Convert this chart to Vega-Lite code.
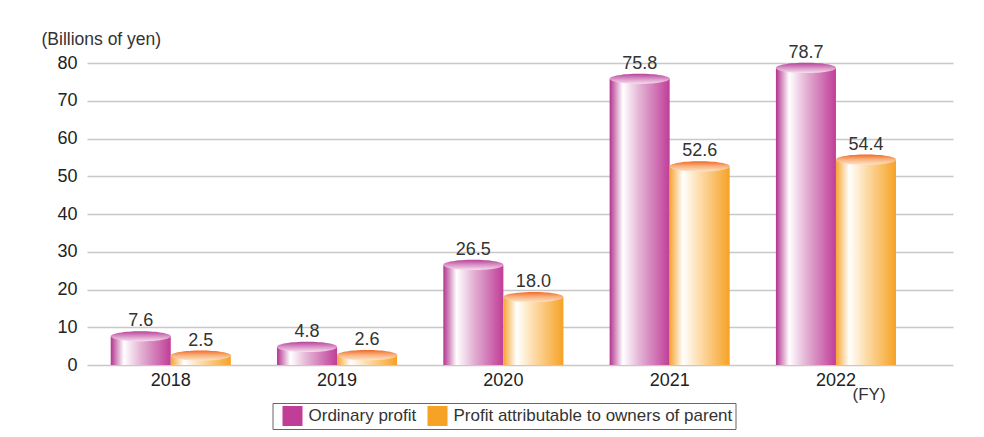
{
  "$schema": "https://vega.github.io/schema/vega-lite/v6.json",
  "autosize": "none",
  "width": 866,
  "height": 302,
  "padding": {"left": 87, "top": 63, "right": 31, "bottom": 72},
  "background": "white",
  "config": {"view": {"stroke": null}, "font": "Liberation Sans"},
  "data": {"values": [
    {"year": "2018", "series": "Ordinary profit", "value": 7.6},
    {"year": "2018", "series": "Profit attributable to owners of parent", "value": 2.5},
    {"year": "2019", "series": "Ordinary profit", "value": 4.8},
    {"year": "2019", "series": "Profit attributable to owners of parent", "value": 2.6},
    {"year": "2020", "series": "Ordinary profit", "value": 26.5},
    {"year": "2020", "series": "Profit attributable to owners of parent", "value": 18.0},
    {"year": "2021", "series": "Ordinary profit", "value": 75.8},
    {"year": "2021", "series": "Profit attributable to owners of parent", "value": 52.6},
    {"year": "2022", "series": "Ordinary profit", "value": 78.7},
    {"year": "2022", "series": "Profit attributable to owners of parent", "value": 54.4}
  ]},
  "encoding": {
    "x": {
      "field": "year", "type": "ordinal",
      "scale": {"paddingInner": 0.278, "paddingOuter": 0.2428, "align": 0.294},
      "axis": {
        "title": "(FY)", "titleX": 765, "titleY": 34, "titleAlign": "left", "titleBaseline": "alphabetic",
        "titleFontSize": 17, "titleFontWeight": "normal", "titleColor": "#333",
        "labelAngle": 0, "labelFontSize": 18, "labelColor": "#222", "labelPadding": 6,
        "ticks": false, "domain": false, "grid": false
      }
    },
    "xOffset": {
      "field": "series", "type": "nominal",
      "scale": {"domain": ["Ordinary profit", "Profit attributable to owners of parent"], "paddingInner": 0, "paddingOuter": 0}
    },
    "y": {
      "field": "value", "type": "quantitative",
      "scale": {"domain": [0, 80], "nice": false},
      "axis": {
        "title": "(Billions of yen)", "titleAngle": 0, "titleAlign": "left", "titleBaseline": "alphabetic",
        "titleX": -46, "titleY": -19, "titleFontSize": 17.5, "titleFontWeight": "normal", "titleColor": "#333",
        "values": [0, 10, 20, 30, 40, 50, 60, 70, 80],
        "labelFontSize": 18, "labelColor": "#222", "labelPadding": 10,
        "ticks": false, "domain": false,
        "gridColor": "#c8c8c8", "gridWidth": 1.5
      }
    }
  },
  "layer": [
    {
      "transform": [{"filter": "datum.series === 'Ordinary profit'"}],
      "mark": {"type": "bar", "strokeWidth": 0,
        "fill": {"gradient": "linear", "x1": 0, "y1": 0, "x2": 1, "y2": 0, "stops": [
          {"offset": 0, "color": "#b3338e"},
          {"offset": 0.22, "color": "#ffffff"},
          {"offset": 0.5, "color": "#e3b3d4"},
          {"offset": 1, "color": "#c03d98"}
        ]}}
    },
    {
      "transform": [{"filter": "datum.series !== 'Ordinary profit'"}],
      "mark": {"type": "bar", "strokeWidth": 0,
        "fill": {"gradient": "linear", "x1": 0, "y1": 0, "x2": 1, "y2": 0, "stops": [
          {"offset": 0, "color": "#f6a432"},
          {"offset": 0.22, "color": "#ffffff"},
          {"offset": 0.5, "color": "#fddcab"},
          {"offset": 1, "color": "#f6a225"}
        ]}}
    },
    {
      "transform": [{"filter": "datum.series === 'Ordinary profit'"}],
      "mark": {"type": "point", "filled": true, "strokeWidth": 0, "size": 3600,
               "shape": "M -1 0 A 1 0.17 0 1 0 1 0 A 1 0.17 0 1 0 -1 0 Z",
               "fill": {"gradient": "linear", "x1": 0, "y1": 0, "x2": 0, "y2": 1, "stops": [
                 {"offset": 0, "color": "#b5449a"},
                 {"offset": 0.45, "color": "#d88cc3"},
                 {"offset": 1, "color": "#f5dfee"}
               ]}},
      "encoding": {"opacity": {"value": 1}}
    },
    {
      "transform": [{"filter": "datum.series !== 'Ordinary profit'"}],
      "mark": {"type": "point", "filled": true, "strokeWidth": 0, "size": 3600,
               "shape": "M -1 0 A 1 0.17 0 1 0 1 0 A 1 0.17 0 1 0 -1 0 Z",
               "fill": {"gradient": "linear", "x1": 0, "y1": 0, "x2": 0, "y2": 1, "stops": [
                 {"offset": 0, "color": "#ee6a2a"},
                 {"offset": 0.45, "color": "#f9ae78"},
                 {"offset": 1, "color": "#fde4c8"}
               ]}},
      "encoding": {"opacity": {"value": 1}}
    },
    {
      "mark": {"type": "text", "dy": -10, "baseline": "alphabetic", "fontSize": 18, "color": "#333"},
      "encoding": {"text": {"field": "value", "type": "quantitative", "format": ".1f"}}
    },
    {
      "mark": {"type": "bar", "opacity": 0},
      "encoding": {
        "color": {
          "field": "series", "type": "nominal",
          "scale": {"domain": ["Ordinary profit", "Profit attributable to owners of parent"], "range": ["#c03d98", "#f6a225"]},
          "legend": {
            "title": null, "orient": "none", "direction": "horizontal",
            "legendX": 185.5, "legendY": 340,
            "padding": 3, "strokeColor": "#666",
            "symbolType": "square", "symbolSize": 400, "symbolOffset": 7,
            "labelFontSize": 17, "labelColor": "#333", "labelOffset": 6, "columnPadding": 4, "labelLimit": 400,
            "encode": {
              "symbols": {
                "update": {
                  "opacity": {"value": 1},
                  "fillOpacity": {"value": 1},
                  "strokeWidth": {"value": 0}
                }
              }
            }
          }
        }
      }
    }
  ]
}
